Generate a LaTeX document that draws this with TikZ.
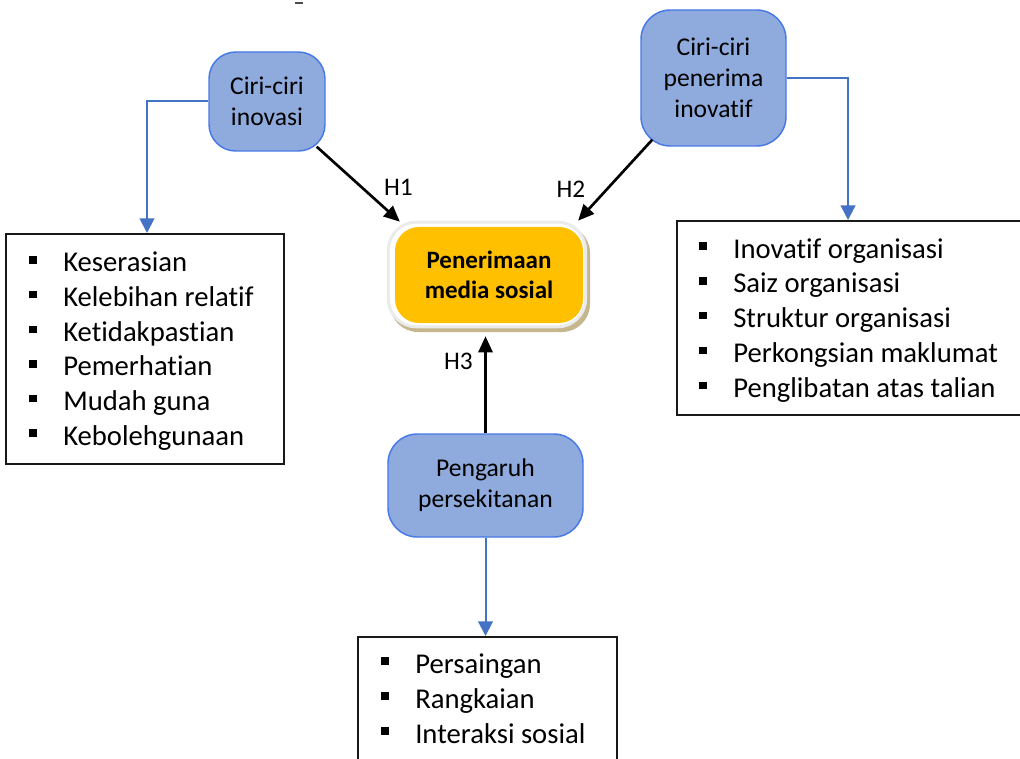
\documentclass[tikz,border=0pt]{standalone}
\usepackage{fontspec}
\setmainfont{Carlito}[Ligatures=NoCommon]
\usetikzlibrary{arrows.meta,calc}
\definecolor{bluefill}{HTML}{8FAADC}
\definecolor{blueedge}{HTML}{4678E8}
\definecolor{bluearr}{HTML}{4472C4}
\definecolor{goldfill}{HTML}{FFC000}
\definecolor{tanshadow}{HTML}{C5B68D}
\definecolor{framegray}{HTML}{EBEBEB}
\newcommand{\bitem}[1]{\rule[6.2pt]{5.5pt}{5.5pt}\hspace{20pt}#1}
\begin{document}
\begin{tikzpicture}[x=0.75pt,y=-0.75pt,
 blueblock/.style={draw=blueedge, line width=1.1pt, fill=bluefill, rounded corners=20pt, align=center, font=\fontsize{19.2pt}{23.25pt}\selectfont, inner sep=0pt},
 listbox/.style={draw=black!90, line width=1.5pt, fill=white, inner sep=0pt},
 item/.style={anchor=base west, inner sep=0pt, font=\fontsize{21.5pt}{26pt}\selectfont},
 hyp/.style={-{Triangle[length=12pt,width=10.5pt]}, line width=2pt, black},
 feed/.style={-{Triangle[length=11pt,width=11pt]}, line width=1.5pt, bluearr},
 hlabel/.style={anchor=base, inner sep=0pt, font=\fontsize{19pt}{23pt}\selectfont}]
\useasboundingbox (0,0) rectangle (1020,759);
\clip (0,0) rectangle (1020,759);

% blue blocks
\node[blueblock, minimum width=87pt, minimum height=74.25pt] (ciri) at (267,101.5) {Ciri-ciri\\inovasi};
\node[blueblock, rounded corners=22pt, minimum width=108.75pt, minimum height=102pt] (pen) at (713.5,78) {Ciri-ciri\\penerima\\inovatif};
\node[blueblock, rounded corners=22pt, minimum width=146.25pt, minimum height=77.25pt] (peng) at (485.5,485.5) {Pengaruh\\persekitanan};

% central block
\node[fill=tanshadow, rounded corners=21pt, minimum width=150pt, minimum height=80.25pt, inner sep=0pt] (accshadow) at (490,278.5) {};
\node[fill=white, draw=framegray, line width=2.2pt, rounded corners=21pt, minimum width=148pt, minimum height=78.5pt, inner sep=0pt] (accframe) at (487,274.5) {};
\node[fill=goldfill, rounded corners=18pt, minimum width=141pt, minimum height=72pt, align=center, font=\bfseries\fontsize{18.75pt}{22.5pt}\selectfont, inner sep=0pt] (accept) at (489,275) {Penerimaan\\media sosial};

% list boxes
\node[listbox, minimum width=208.5pt, minimum height=172.5pt] (lbox) at (145,349) {};
\node[listbox, minimum width=261.75pt, minimum height=145.5pt] (rbox) at (851.5,318) {};
\node[listbox, minimum width=194.25pt, minimum height=96pt] (bbox) at (487.5,701) {};

\foreach \t [count=\i] in {Keserasian, Kelebihan relatif, Ketidakpastian, Pemerhatian, Mudah guna, Kebolehgunaan}
  \node[item] (L\i) at (29,{272+34.6*(\i-1)}) {\bitem{\t}};
\foreach \t [count=\i] in {Inovatif organisasi, Saiz organisasi, Struktur organisasi, Perkongsian maklumat, Penglibatan atas talian}
  \node[item] (R\i) at (699,{258+34.8*(\i-1)}) {\bitem{\t}};
\foreach \t [count=\i] in {Persaingan, Rangkaian, Interaksi sosial}
  \node[item] (B\i) at (381,{673+35*(\i-1)}) {\bitem{\t}};

% feed arrows
\draw[feed] (ciri.west) -| ([xshift=1.5pt]lbox.north);
\draw[feed] (pen.east) -| ([xshift=-2.6pt]rbox.north);
\draw[feed] (peng.south) -- (peng.south |- bbox.north);

% hypothesis arrows
\coordinate (h1s) at ($(ciri.south east)+(-9,-5)$);
\coordinate (h1e) at ($(accframe.north west)+(13,1)$);
\coordinate (h2s) at ($(pen.south west)+(12,-7)$);
\coordinate (h2e) at ($(accframe.north east)+(-9,0)$);
\coordinate (h3a) at (peng.north |- accshadow.south);
\draw[hyp] (h1s) -- (h1e);
\draw[hyp] (h2s) -- (h2e);
\draw[hyp] (peng.north) -- ([yshift=-3pt]h3a);

\node[hlabel] (h1) at (398.5,196) {H1};
\node[hlabel] (h2) at (571,198) {H2};
\node[hlabel] (h3) at (458.5,369) {H3};

% stray mark at top
\draw[black!70, line width=1pt] (295,3) -- (303,3);
\end{tikzpicture}
\end{document}
